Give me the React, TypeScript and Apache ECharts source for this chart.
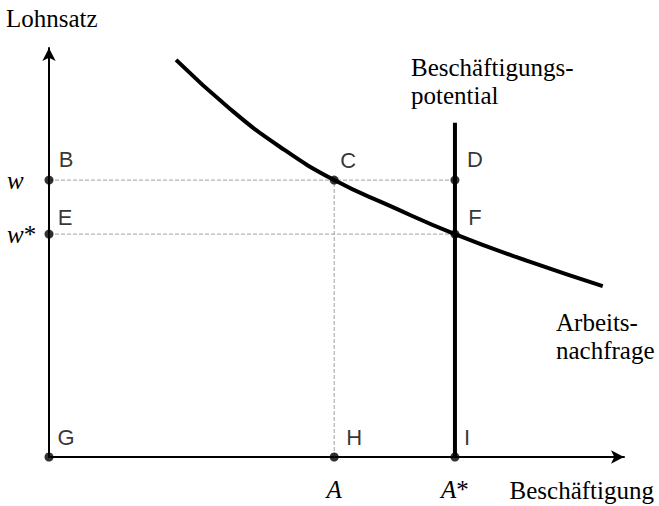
import React, { useEffect, useRef } from 'react';
import * as echarts from 'echarts';

// Key values (x: Beschäftigung 0..100, y: Lohnsatz 0..100)
const A = 49.6;
const Astar = 70.6;
const w = 67.7;
const wStar = 54.5;
const potentialTop = 81.7;

// Arbeitsnachfrage curve
const demandX = [22.1, 31.5, 40.2, 49.6, 59.3, 70.6, 83.7, 96.3];
const demandY = [97.1, 85.1, 75.8, 67.7, 61.4, 54.5, 47.7, 41.8];

// Labelled points
const pointNames = ['B', 'C', 'D', 'E', 'F', 'G', 'H', 'I'];
const pointX = [0, A, Astar, 0, Astar, 0, A, Astar];
const pointY = [w, w, w, wStar, wStar, 0, 0, 0];
const labelDx = [17, 14, 20, 16, 20, 17, 20, 12];
const labelDy = [-21, -20, -21, -17, -17, -20, -20, -20];

// Tick labels
const xTickValues = [A, Astar];
const xTickLabels = ['{i|A}', '{i|A}{n|*}'];
const yTickValues = [wStar, w];
const yTickLabels = ['{i|w}{n|*}', '{i|w}'];

const SERIF = '"Liberation Serif", "Times New Roman", serif';
const SANS = '"Liberation Sans", Arial, sans-serif';

const richSerif = {
  i: { fontFamily: SERIF, fontStyle: 'italic', fontSize: 25, color: '#000' },
  n: { fontFamily: SERIF, fontSize: 25, color: '#000' },
};

export default function App() {
  const ref = useRef<HTMLDivElement>(null);

  useEffect(() => {
    if (!ref.current) return;
    const chart = echarts.init(ref.current, null, { renderer: 'svg' });

    const guideStyle = { color: '#a0a0a0', width: 1, type: [4, 2] as any };

    const option: any = {
      animation: false,
      backgroundColor: '#fff',
      grid: { left: 49, right: 35, top: 48, bottom: 49, containLabel: false, outerBoundsMode: 'none' },
      xAxis: {
        type: 'value',
        min: 0,
        max: 100,
        splitLine: { show: false },
        axisTick: { show: false },
        axisLine: {
          show: true,
          onZero: false,
          symbol: ['none', 'arrow'],
          symbolSize: [10, 13],
          lineStyle: { color: '#000', width: 2 },
        },
        axisLabel: {
          show: true,
          customValues: xTickValues,
          margin: 20,
          formatter: (v: number) => {
            const i = xTickValues.findIndex((t) => Math.abs(t - v) < 1e-6);
            return i >= 0 ? xTickLabels[i] : '';
          },
          rich: richSerif,
          fontFamily: SERIF,
          fontSize: 25,
          color: '#000',
        },
      },
      yAxis: {
        type: 'value',
        min: 0,
        max: 100,
        splitLine: { show: false },
        axisTick: { show: false },
        axisLine: {
          show: true,
          onZero: false,
          symbol: ['none', 'arrow'],
          symbolSize: [10, 13],
          lineStyle: { color: '#000', width: 2 },
        },
        axisLabel: {
          show: true,
          customValues: yTickValues,
          margin: 42,
          align: 'left',
          verticalAlign: 'middle',
          formatter: (v: number) => {
            const i = yTickValues.findIndex((t) => Math.abs(t - v) < 1e-6);
            return i >= 0 ? yTickLabels[i] : '';
          },
          rich: richSerif,
          fontFamily: SERIF,
          fontSize: 25,
          color: '#000',
        },
      },
      graphic: [
        {
          type: 'text',
          x: 6,
          y: 18,
          style: {
            text: 'Lohnsatz',
            font: `25px ${SERIF}`,
            fill: '#000',
            align: 'left',
            verticalAlign: 'middle',
            textAlign: 'left',
            textVerticalAlign: 'middle',
          },
        },
        {
          type: 'text',
          x: 411,
          y: 53,
          style: {
            text: 'Beschäftigungs-\npotential',
            font: `25px ${SERIF}`,
            lineHeight: 28,
            fill: '#000',
            align: 'left',
            verticalAlign: 'top',
            textAlign: 'left',
            textVerticalAlign: 'top',
          },
        },
        {
          type: 'text',
          x: 556,
          y: 308,
          style: {
            text: 'Arbeits-\nnachfrage',
            font: `25px ${SERIF}`,
            lineHeight: 28,
            fill: '#000',
            align: 'left',
            verticalAlign: 'top',
            textAlign: 'left',
            textVerticalAlign: 'top',
          },
        },
        {
          type: 'text',
          x: 654,
          y: 490,
          style: {
            text: 'Beschäftigung',
            font: `25px ${SERIF}`,
            fill: '#000',
            align: 'right',
            verticalAlign: 'middle',
            textAlign: 'right',
            textVerticalAlign: 'middle',
          },
        },
      ],
      series: [
        {
          type: 'line',
          symbol: 'none',
          silent: true,
          lineStyle: guideStyle,
          data: [[0, w], [Astar, w]],
        },
        {
          type: 'line',
          symbol: 'none',
          silent: true,
          lineStyle: guideStyle,
          data: [[0, wStar], [Astar, wStar]],
        },
        {
          type: 'line',
          symbol: 'none',
          silent: true,
          lineStyle: guideStyle,
          data: [[A, 0], [A, w]],
        },
        {
          type: 'line',
          symbol: 'none',
          silent: true,
          lineStyle: { color: '#000', width: 4 },
          data: [[Astar, 0], [Astar, potentialTop]],
        },
        {
          type: 'line',
          symbol: 'none',
          silent: true,
          smooth: 0.5,
          lineStyle: { color: '#000', width: 4 },
          data: demandX.map((x, i) => [x, demandY[i]]),
        },
        {
          type: 'scatter',
          symbol: 'circle',
          symbolSize: 9,
          silent: true,
          itemStyle: { color: '#000' },
          z: 5,
          data: pointNames.map((n, i) => ({
            value: [pointX[i], pointY[i]],
            name: n,
            label: {
              show: true,
              position: 'inside',
              offset: [labelDx[i], labelDy[i]],
              formatter: n,
              fontFamily: SANS,
              fontSize: 22,
              color: '#000',
            },
          })),
        },
      ],
    };

    chart.setOption(option);
    return () => chart.dispose();
  }, []);

  return (
    <div
      ref={ref}
      style={{ position: 'fixed', left: 0, top: 0, width: 659, height: 506, background: '#fff' }}
    />
  );
}
